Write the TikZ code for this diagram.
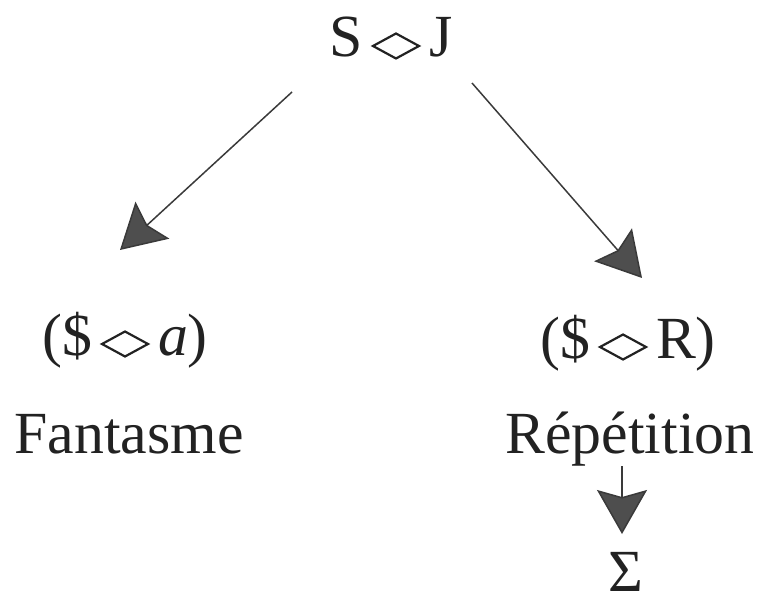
\documentclass[tikz,border=0pt]{standalone}
\usepackage{fontspec}
\setmainfont{Liberation Serif}
\usetikzlibrary{arrows.meta}
\definecolor{ink}{HTML}{222222}
\definecolor{arrowgray}{HTML}{3A3A3A}
% flat lozenge used as the "poinçon"
\newcommand{\poincon}{\hspace{0.15em}\tikz[x=1bp, y=1bp, baseline=-11bp]
  \draw[ink, line width=2.2bp, line join=miter] (0,0) -- (23,12.5) -- (46,0) -- (23,-12.5) -- cycle;\hspace{0.15em}}
\tikzset{
  lbl/.style={anchor=base, inner sep=0pt, text=ink, font=\fontsize{60}{72}\selectfont},
  arr/.style={draw=arrowgray, line width=1.5bp,
    -{Stealth[length=44bp, width=50bp, inset=7bp, fill=arrowgray!90]}},
}
\begin{document}
\begin{tikzpicture}[x=1bp, y=-1bp]
  \useasboundingbox (0,0) rectangle (758,604);
  % formulas and names
  \node[lbl] (top)   at (391,57)  {S\poincon J};
  \node[lbl] (lf)    at (125,355) {(\$\poincon\textit{a})};
  \node[lbl] (lname) at (129,453) {Fantasme};
  \node[lbl] (rf)    at (628,358) {(\$\poincon R)};
  \node[lbl] (rname) at (630,453) {Répétition};
  \node[lbl] (sig)   at (626,591) {Σ};
  % arrow end points
  \coordinate (l0) at (292,92);
  \coordinate (l1) at (120,250);
  \coordinate (r0) at (472,83);
  \coordinate (r1) at (642,278);
  \coordinate (d0) at (622,466);
  \coordinate (d1) at (622,534);
  \draw[arr] (l0) -- (l1);
  \draw[arr] (r0) -- (r1);
  \draw[arr] (d0) -- (d1);
\end{tikzpicture}
\end{document}
